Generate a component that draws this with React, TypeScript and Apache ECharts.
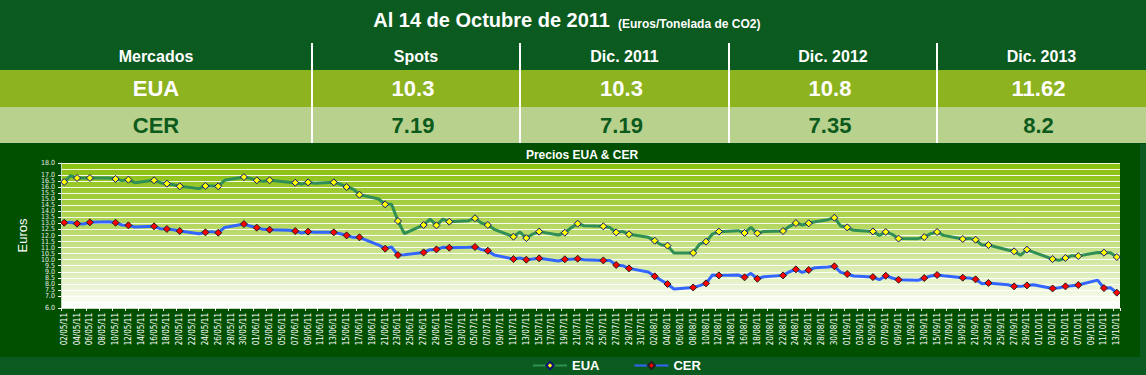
import { useEffect, useRef } from 'react';
import * as echarts from 'echarts';

const columnHeaders = ['Mercados', 'Spots', 'Dic. 2011', 'Dic. 2012', 'Dic. 2013'];
const markets = ['EUA', 'CER'];
const euaQuotes = ['10.3', '10.3', '10.8', '11.62'];
const cerQuotes = ['7.19', '7.19', '7.35', '8.2'];

const tradeDates = [
  '02/05/11', '03/05/11', '04/05/11', '05/05/11', '06/05/11', '09/05/11', '10/05/11', '11/05/11', '12/05/11', '13/05/11',
  '16/05/11', '17/05/11', '18/05/11', '19/05/11', '20/05/11', '23/05/11', '24/05/11', '25/05/11', '26/05/11', '27/05/11',
  '30/05/11', '31/05/11',
  '01/06/11', '02/06/11', '03/06/11', '06/06/11', '07/06/11', '08/06/11', '09/06/11', '10/06/11', '13/06/11', '14/06/11',
  '15/06/11', '16/06/11', '17/06/11', '20/06/11', '21/06/11', '22/06/11', '23/06/11', '24/06/11', '27/06/11', '28/06/11',
  '29/06/11', '30/06/11',
  '01/07/11', '04/07/11', '05/07/11', '06/07/11', '07/07/11', '08/07/11', '11/07/11', '12/07/11', '13/07/11', '14/07/11',
  '15/07/11', '18/07/11', '19/07/11', '20/07/11', '21/07/11', '22/07/11', '25/07/11', '26/07/11', '27/07/11', '28/07/11',
  '29/07/11',
  '01/08/11', '02/08/11', '03/08/11', '04/08/11', '05/08/11', '08/08/11', '09/08/11', '10/08/11', '11/08/11', '12/08/11',
  '15/08/11', '16/08/11', '17/08/11', '18/08/11', '19/08/11', '22/08/11', '23/08/11', '24/08/11', '25/08/11', '26/08/11',
  '27/08/11', '29/08/11', '30/08/11', '31/08/11',
  '01/09/11', '02/09/11', '05/09/11', '06/09/11', '07/09/11', '08/09/11', '09/09/11', '12/09/11', '13/09/11', '14/09/11',
  '15/09/11', '16/09/11', '19/09/11', '20/09/11', '21/09/11', '22/09/11', '23/09/11', '26/09/11', '27/09/11', '28/09/11',
  '29/09/11', '30/09/11',
  '03/10/11', '04/10/11', '05/10/11', '06/10/11', '07/10/11', '10/10/11', '11/10/11', '12/10/11', '13/10/11',
];

const euaPrices = [
  16.43, 16.95, 16.76, 16.76, 16.76, 16.76, 16.68, 16.54, 16.62, 16.37,
  16.57, 16.37, 16.29, 16.2, 16.07, 15.88, 16.1, 16.1, 16.07, 16.57,
  16.84, 16.73,
  16.57, 16.48, 16.57, 16.4, 16.37, 16.26, 16.4, 16.32, 16.4, 16.26,
  16.01, 15.85, 15.38, 15.02, 14.58, 14.58, 13.2, 12.15, 12.87, 13.36,
  12.84, 13.36,
  13.14, 13.23, 13.43, 13.03, 12.87, 12.51, 11.9, 12.29, 11.79, 12.12,
  12.32, 12.04, 12.23, 12.65, 12.98, 12.81, 12.76, 12.67, 12.26, 12.34,
  12.1,
  11.85, 11.57, 11.24, 11.16, 10.55, 10.56, 11.29, 11.49, 12.12, 12.32,
  12.4, 12.21, 12.67, 12.18, 12.34, 12.37, 12.76, 13.03, 12.87, 13.01,
  13.14, 13.31, 13.47, 12.78,
  12.67, 12.43, 12.34, 12.01, 12.29, 12.1, 11.75, 11.74, 11.87, 12.15,
  12.29, 12.01, 11.71, 11.76, 11.65, 11.21, 11.21, 10.8, 10.69, 10.36,
  10.83, 10.63,
  10.05, 9.94, 10.14, 10.33, 10.3, 10.6, 10.58, 10.58, 10.22,
];

const cerPrices = [
  13.06, 13.09, 12.98, 12.95, 13.09, 13.14, 13.06, 12.87, 12.84, 12.7,
  12.76, 12.56, 12.54, 12.48, 12.37, 12.15, 12.26, 12.32, 12.23, 12.67,
  12.95, 12.78,
  12.65, 12.51, 12.48, 12.43, 12.37, 12.21, 12.32, 12.26, 12.26, 12.15,
  12.01, 11.85, 11.85, 11.21, 10.91, 11.05, 10.38, 10.41, 10.6, 10.83,
  10.85, 11.02,
  10.99, 11.02, 11.05, 10.83, 10.74, 10.38, 10.05, 10.14, 10.0, 10.05,
  10.11, 9.89, 10.03, 10.03, 10.08, 10.0, 9.94, 9.94, 9.56, 9.5,
  9.28,
  8.98, 8.62, 8.29, 7.98, 7.57, 7.7, 7.85, 8.04, 8.73, 8.7,
  8.73, 8.54, 8.87, 8.42, 8.59, 8.7, 9.0, 9.2, 8.95, 9.14,
  9.34, 9.39, 9.45, 8.95,
  8.81, 8.65, 8.56, 8.34, 8.67, 8.48, 8.34, 8.29, 8.48, 8.65,
  8.73, 8.67, 8.51, 8.48, 8.37, 8.01, 8.07, 7.93, 7.79, 7.79,
  7.87, 7.93,
  7.62, 7.68, 7.79, 7.85, 7.9, 8.31, 7.65, 7.68, 7.27,
];

const axisStart = [2011, 4, 2];
const axisEnd = [2011, 9, 13];

function calendarLabels(): string[] {
  const out: string[] = [];
  const d = new Date(axisStart[0], axisStart[1], axisStart[2]);
  const end = new Date(axisEnd[0], axisEnd[1], axisEnd[2]);
  const p = (n: number) => (n < 10 ? '0' + n : '' + n);
  while (d <= end) {
    out.push(p(d.getDate()) + '/' + p(d.getMonth() + 1) + '/' + p(d.getFullYear() % 100));
    d.setDate(d.getDate() + 1);
  }
  return out;
}

const NARROW = "'Liberation Sans Narrow', 'DejaVu Sans Condensed', Arial, sans-serif";
const SANS = "'Liberation Sans', Arial, Helvetica, sans-serif";

export default function App() {
  const ref = useRef<HTMLDivElement>(null);

  useEffect(() => {
    if (!ref.current) return;
    const chart = echarts.init(ref.current, undefined, { renderer: 'svg' });
    const days = calendarLabels();

    const colEdges = [0, 312, 520, 729, 937, 1146];
    const colCenter = (i: number) => (colEdges[i] + colEdges[i + 1]) / 2;

    const graphics: any[] = [
      { type: 'rect', z: -10, shape: { x: 0, y: 70, width: 1146, height: 37 }, style: { fill: '#8db31f' } },
      { type: 'rect', z: -10, shape: { x: 0, y: 107, width: 1146, height: 36 }, style: { fill: '#b8d28e' } },
      { type: 'rect', z: -10, shape: { x: 0, y: 143, width: 1146, height: 1 }, style: { fill: '#004f10' } },
      { type: 'rect', z: -10, shape: { x: 0, y: 144, width: 1140, height: 213 }, style: { fill: '#005000' } },
    ];
    for (let i = 1; i < colEdges.length - 1; i++) {
      graphics.push({ type: 'rect', z: -5, shape: { x: colEdges[i] - 1, y: 43, width: 2, height: 100 }, style: { fill: '#ffffff' } });
    }
    graphics.push({
      type: 'text', x: 610, y: 30,
      style: { text: 'Al 14 de Octubre de 2011', fill: '#ffffff', font: `bold 20px ${SANS}`, align: 'right', verticalAlign: 'bottom' },
    });
    graphics.push({
      type: 'text', x: 618, y: 30,
      style: { text: '(Euros/Tonelada de CO2)', fill: '#ffffff', font: `bold 12px ${SANS}`, align: 'left', verticalAlign: 'bottom' },
    });
    columnHeaders.forEach((h, i) => {
      graphics.push({ type: 'text', x: colCenter(i), y: 56, style: { text: h, fill: '#ffffff', font: `bold 16px ${SANS}`, align: 'center', verticalAlign: 'middle' } });
    });
    const rows = [euaQuotes, cerQuotes];
    const rowY = [88, 125];
    const rowColor = ['#ffffff', '#0c5a1c'];
    markets.forEach((m, r) => {
      graphics.push({ type: 'text', x: colCenter(0), y: rowY[r], style: { text: m, fill: rowColor[r], font: `bold 22px ${SANS}`, align: 'center', verticalAlign: 'middle' } });
      rows[r].forEach((v, i) => {
        graphics.push({ type: 'text', x: colCenter(i + 1) - 3, y: rowY[r], style: { text: v, fill: rowColor[r], font: `bold 22px ${SANS}`, align: 'center', verticalAlign: 'middle' } });
      });
    });
    graphics.push({
      type: 'text', x: 582, y: 155,
      style: { text: 'Precios EUA & CER', fill: '#ffffff', font: `bold 12px ${SANS}`, align: 'center', verticalAlign: 'middle' },
    });

    chart.setOption({
      animation: false,
      backgroundColor: '#0b5a1f',
      graphic: graphics,
      grid: {
        left: 61, right: 26, top: 163, bottom: 67,
        show: true,
        borderWidth: 0,
        backgroundColor: new echarts.graphic.LinearGradient(0, 0, 0, 1, [
          { offset: 0, color: '#88bf0c' },
          { offset: 0.4, color: '#b2d558' },
          { offset: 0.75, color: '#dcedb6' },
          { offset: 1, color: '#ffffff' },
        ]),
      },
      legend: {
        left: 532, top: 359, padding: 0,
        itemWidth: 34, itemHeight: 9, itemGap: 34,
        textStyle: { color: '#ffffff', fontWeight: 'bold', fontSize: 13, fontFamily: SANS },
        data: ['EUA', 'CER'],
      },
      xAxis: {
        type: 'category',
        data: days,
        boundaryGap: true,
        axisLine: { show: true, lineStyle: { color: '#c9d6c4', width: 1 } },
        axisTick: { show: true, interval: 1, length: 3, lineStyle: { color: '#ffffff' } },
        axisLabel: { interval: 1, rotate: 90, fontSize: 8, margin: 5, color: '#ffffff', fontFamily: NARROW },
        splitLine: { show: false },
      },
      yAxis: {
        type: 'value',
        min: 6, max: 18, interval: 0.5,
        name: 'Euros',
        nameLocation: 'middle',
        nameRotate: 90,
        nameGap: 32,
        nameTextStyle: { color: '#ffffff', fontSize: 13, fontFamily: SANS },
        axisLine: { show: true, lineStyle: { color: '#c9d6c4', width: 1 } },
        axisTick: { show: true, length: 3, lineStyle: { color: '#ffffff' } },
        axisLabel: {
          fontSize: 7, lineHeight: 6, margin: 6, color: '#e8e8e8', fontFamily: NARROW,
          showMinLabel: true, showMaxLabel: true, hideOverlap: false,
          formatter: (v: number) => v.toFixed(1),
        },
        splitLine: { show: true, lineStyle: { color: 'rgba(255,255,255,0.9)', width: 1 } },
      },
      series: [
        {
          name: 'EUA',
          type: 'line',
          data: tradeDates.map((d, i) => [d, euaPrices[i]]),
          symbol: 'diamond',
          symbolSize: 7,
          lineStyle: { color: '#2f8f55', width: 3 },
          itemStyle: { color: '#ffff00', borderColor: '#10107a', borderWidth: 1 },
        },
        {
          name: 'CER',
          type: 'line',
          data: tradeDates.map((d, i) => [d, cerPrices[i]]),
          symbol: 'diamond',
          symbolSize: 7,
          lineStyle: { color: '#3366ff', width: 3 },
          itemStyle: { color: '#ff0000', borderColor: '#202020', borderWidth: 1 },
        },
      ],
    });
    return () => chart.dispose();
  }, []);

  return <div ref={ref} style={{ position: 'absolute', left: 0, top: 0, width: 1146, height: 375 }} />;
}
